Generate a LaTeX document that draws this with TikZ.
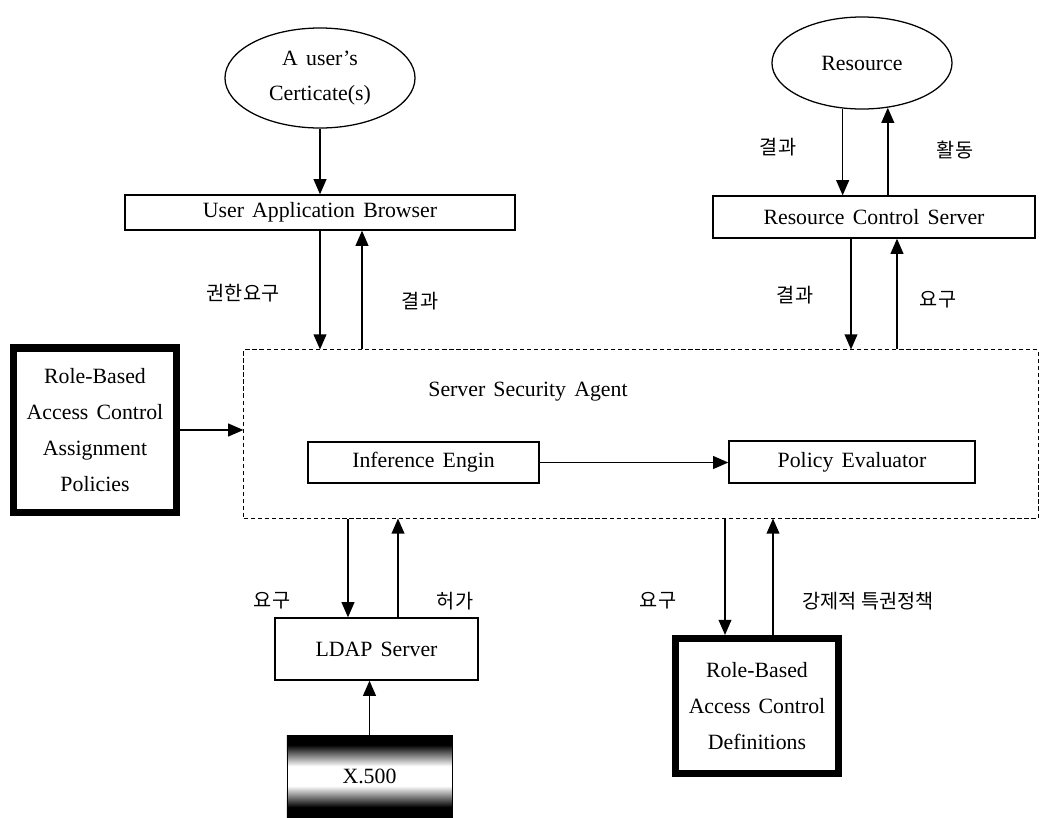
\documentclass[tikz,border=0pt]{standalone}
\usepackage{fontspec}
\setmainfont[WordSpace=1.5]{Liberation Serif}
\newfontfamily\kfont{Noto Sans CJK KR}
\usetikzlibrary{arrows.meta,shapes.geometric}
% dark band shading for the X.500 box
\pgfdeclareverticalshading{xband}{100bp}{color(0bp)=(black); color(31bp)=(black); color(44bp)=(white); color(56bp)=(white); color(69bp)=(black); color(100bp)=(black)}

\begin{document}
\begin{tikzpicture}[x=0.025cm, y=-0.025cm,
    every node/.style={font=\fontsize{15.5}{25.5}\selectfont},
    box/.style={draw, line width=0.9pt, inner sep=0pt},
    heavybox/.style={draw, line width=5pt, inner sep=0pt, align=center},
    oval/.style={draw, ellipse, line width=0.9pt, inner sep=0pt, align=center},
    arr/.style={line width=1.1pt, -{Triangle[length=0.38cm,width=0.32cm]}},
    klab/.style={font=\kfont\fontsize{14}{16}\selectfont}]
    \useasboundingbox (0,0) rectangle (1040,817);

    %Top row
    \node[oval, minimum width=4.75cm, minimum height=2.5cm] (cert) at (320,78) {A user’s\\Certicate(s)};
    \node[oval, minimum width=4.5cm, minimum height=2.3cm] (resource) at (862,63) {Resource};
    \node[box, minimum width=9.75cm, minimum height=0.875cm] (browser) at (320,212.5) {User Application Browser};
    \node[box, minimum width=8.05cm, minimum height=1.05cm] (rcs) at (874,217) {Resource Control Server};

    %Agent
    \node[box, dashed, line width=0.7pt, dash pattern=on 3pt off 2pt, minimum width=19.85cm, minimum height=4.2cm] (ssa) at (641,434) {};
    \node (ssatitle) at (528,392) {Server Security Agent};
    \node[box, minimum width=5.775cm, minimum height=1.025cm] (infer) at (423.5,462.5) {Inference Engin};
    \node[box, minimum width=6.15cm, minimum height=1.05cm] (policy) at (852,462) {Policy Evaluator};
    \node[heavybox, minimum width=4.075cm, minimum height=4.1cm] (rbacassign) at (95,430) {Role-Based\\Access Control\\Assignment\\Policies};

    %Bottom row
    \node[box, minimum width=5.075cm, minimum height=1.55cm] (ldap) at (376.5,649) {LDAP Server};
    \node[draw=black, shading=xband, minimum width=4.125cm, minimum height=2.05cm, inner sep=0pt] (xfive) at (369.5,776) {X.500};
    \node[heavybox, minimum width=4.075cm, minimum height=3.375cm] (rbacdef) at (757,706) {Role-Based\\Access Control\\Definitions};

    %Connector columns
    \coordinate (bdown) at (320,0);
    \coordinate (bup) at (362,0);
    \coordinate (rdown) at (851,0);
    \coordinate (rup) at (897,0);
    \coordinate (ldown) at (348,0);
    \coordinate (lup) at (398,0);
    \coordinate (ddown) at (725,0);
    \coordinate (dup) at (773,0);

    %Connectors
    \draw[arr] (cert.south) -- (browser.north);
    \draw[arr] (bdown |- browser.south) -- (bdown |- ssa.north);
    \draw[arr] (bup |- ssa.north) -- (bup |- browser.south);
    \draw[arr] (resource.247) -- (resource.247 |- rcs.north);
    \draw[arr] (resource.300 |- rcs.north) -- (resource.300);
    \draw[arr] (rdown |- rcs.south) -- (rdown |- ssa.north);
    \draw[arr] (rup |- ssa.north) -- (rup |- rcs.south);
    \draw[arr] (rbacassign.east) -- (rbacassign.east -| ssa.west);
    \draw[arr] (infer.east) -- (infer.east -| policy.west);
    \draw[arr] (ldown |- ssa.south) -- (ldown |- ldap.north);
    \draw[arr] (lup |- ldap.north) -- (lup |- ssa.south);
    \draw[arr] (xfive.north) -- (xfive.north |- ldap.south);
    \draw[arr] (ddown |- ssa.south) -- (ddown |- rbacdef.north);
    \draw[arr] (dup |- rbacdef.north) -- (dup |- ssa.south);

    %Labels
    \node[klab] (l1) at (243,293) {권한요구};
    \node[klab] (l2) at (420,301) {결과};
    \node[klab] (l3) at (778,147) {결과};
    \node[klab] (l4) at (955,150) {활동};
    \node[klab] (l5) at (795,295) {결과};
    \node[klab] (l6) at (938,300) {요구};
    \node[klab] (l7) at (272,601) {요구};
    \node[klab] (l8) at (455,601) {허가};
    \node[klab] (l9) at (658,601) {요구};
    \node[klab] (l10) at (868,601) {강제적 특권정책};
\end{tikzpicture}
\end{document}
